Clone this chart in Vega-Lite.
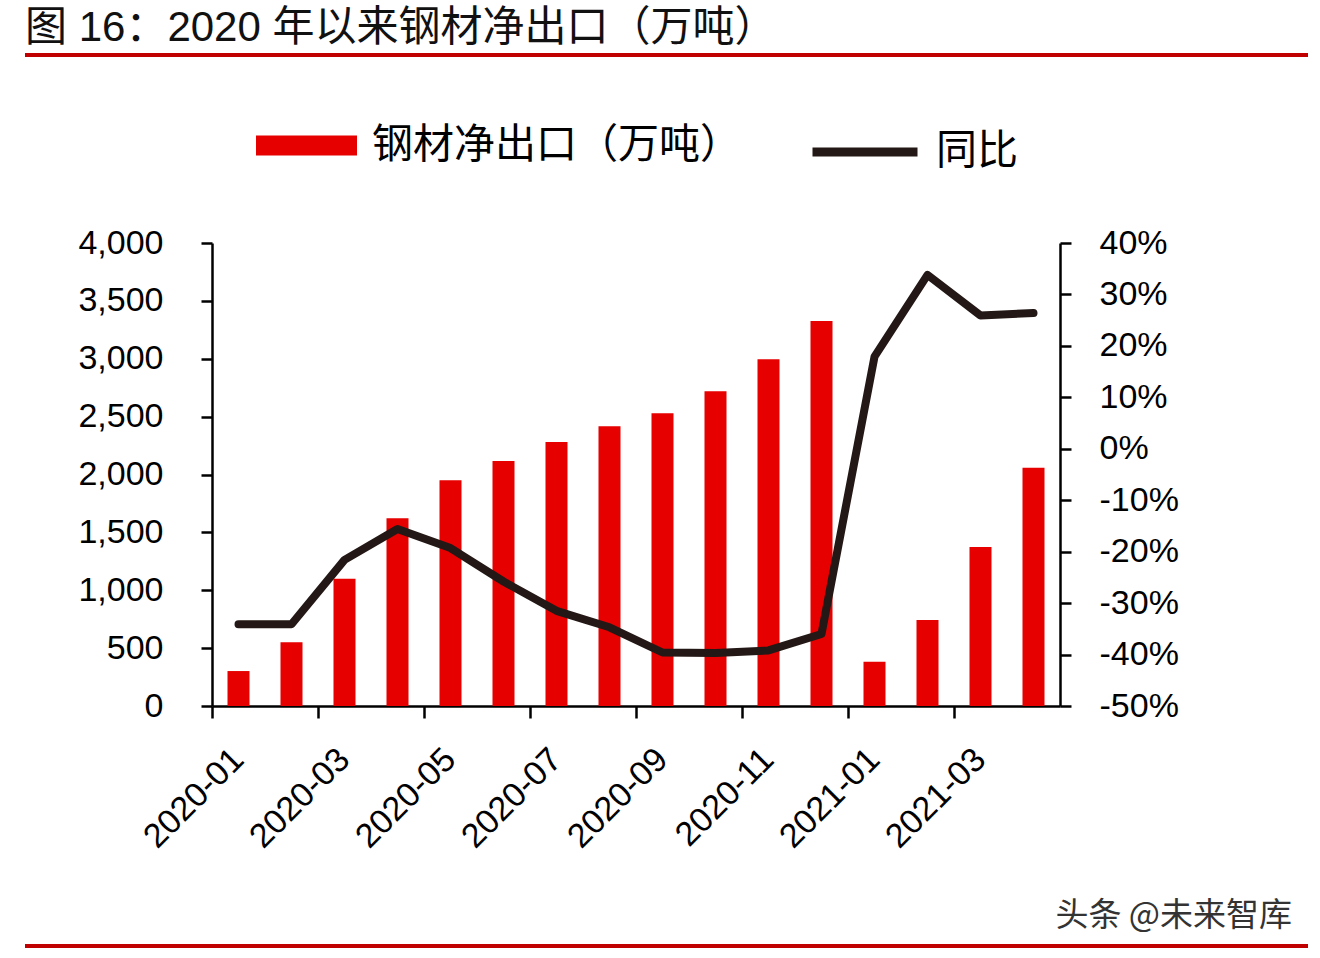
{
  "$schema": "https://vega.github.io/schema/vega-lite/v6.json",
  "padding": {"left": 25, "top": 7, "right": 12, "bottom": 10},
  "background": "#ffffff",
  "config": {
    "view": {"stroke": null},
    "font": "Liberation Sans, Noto Sans CJK SC",
    "axis": {"grid": false, "domainColor": "#000000", "tickColor": "#000000", "labelColor": "#000000", "labelFont": "Liberation Sans", "domainWidth": 2.5, "tickWidth": 2.5, "labelFontSize": 34}
  },
  "spacing": 169,
  "vconcat": [
    {
      "width": 1283,
      "height": 4,
      "data": {"values": []},
      "mark": {"type": "rule"},
      "encoding": {},
      "view": {"stroke": null, "fill": "#c00000"},
      "title": {"text": "图 16：2020 年以来钢材净出口（万吨）", "anchor": "start", "fontSize": 42, "font": "Liberation Sans, Noto Sans CJK SC", "fontWeight": "normal", "color": "#111111", "offset": 3}
    },
    {
      "spacing": 45,
      "vconcat": [
        {
          "width": 1283,
          "height": 463,
          "data": {"values": [
            {"月份": "2020-01", "净出口": 302, "同比": -34.1},
            {"月份": "2020-02", "净出口": 550, "同比": -34.1},
            {"月份": "2020-03", "净出口": 1100, "同比": -21.6},
            {"月份": "2020-04", "净出口": 1621, "同比": -15.6},
            {"月份": "2020-05", "净出口": 1950, "同比": -19.3},
            {"月份": "2020-06", "净出口": 2117, "同比": -25.8},
            {"月份": "2020-07", "净出口": 2281, "同比": -31.5},
            {"月份": "2020-08", "净出口": 2416, "同比": -34.7},
            {"月份": "2020-09", "净出口": 2529, "同比": -39.6},
            {"月份": "2020-10", "净出口": 2719, "同比": -39.7},
            {"月份": "2020-11", "净出口": 2995, "同比": -39.2},
            {"月份": "2020-12", "净出口": 3326, "同比": -36.0},
            {"月份": "2021-01", "净出口": 383, "同比": 17.9},
            {"月份": "2021-02", "净出口": 743, "同比": 33.8},
            {"月份": "2021-03", "净出口": 1374, "同比": 25.9},
            {"月份": "2021-04", "净出口": 2059, "同比": 26.4}
          ]},
          "layer": [
            {
              "mark": {"type": "bar", "width": 22},
              "encoding": {
                "x": {
                  "field": "月份", "type": "ordinal", "sort": null,
                  "scale": {"range": [187, 1035], "paddingInner": 0, "paddingOuter": 0},
                  "axis": {
                    "title": null,
                    "values": ["2020-01", "2020-03", "2020-05", "2020-07", "2020-09", "2020-11", "2021-01", "2021-03"],
                    "bandPosition": 0,
                    "labelAngle": -45, "labelAlign": "right", "labelBaseline": "middle",
                    "labelPadding": 36, "tickSize": 12, "labelOverlap": false, "labelBound": false
                  }
                },
                "y": {
                  "field": "净出口", "type": "quantitative",
                  "scale": {"domain": [0, 4000], "nice": false, "zero": true},
                  "axis": {
                    "orient": "left", "offset": -187,
                    "values": [0, 500, 1000, 1500, 2000, 2500, 3000, 3500, 4000],
                    "format": ",.0f",
                    "tickSize": 11, "labelPadding": 38, "title": null
                  }
                },
                "fill": {
                  "datum": "钢材净出口（万吨）",
                  "scale": {"range": ["#e60000"]},
                  "legend": {
                    "title": null, "orient": "none", "legendX": 231, "legendY": 42, "padding": 0,
                    "symbolType": "M-1,-0.2H1V0.2H-1Z", "symbolSize": 10201, "symbolStrokeWidth": 0, "symbolOpacity": 1,
                    "labelFontSize": 41, "labelFont": "Noto Sans CJK SC", "labelColor": "#000000", "labelOffset": 15, "labelLimit": 800
                  }
                }
              }
            },
            {
              "mark": {"type": "line", "strokeWidth": 8, "strokeCap": "round", "strokeJoin": "round"},
              "encoding": {
                "x": {"field": "月份", "type": "ordinal", "sort": null},
                "y": {
                  "field": "同比", "type": "quantitative",
                  "scale": {"domain": [-50, 40], "nice": false, "zero": false},
                  "axis": {
                    "orient": "right", "offset": -248,
                    "values": [-50, -40, -30, -20, -10, 0, 10, 20, 30, 40],
                    "labelExpr": "datum.value + '%'",
                    "tickSize": 11, "labelPadding": 28, "title": null
                  }
                },
                "stroke": {
                  "datum": "同比",
                  "scale": {"range": ["#231815"]},
                  "legend": {
                    "title": null, "orient": "none", "legendX": 783, "legendY": 42, "padding": 0,
                    "symbolType": "stroke", "symbolSize": 11025, "symbolStrokeWidth": 9,
                    "labelFontSize": 41, "labelFont": "Noto Sans CJK SC", "labelColor": "#000000", "labelOffset": 14, "labelLimit": 400
                  }
                }
              }
            }
          ],
          "resolve": {"scale": {"y": "independent"}}
        },
        {
          "width": 1283,
          "height": 4,
          "data": {"values": []},
          "mark": {"type": "rule"},
          "encoding": {},
          "view": {"stroke": null, "fill": "#c00000"},
          "title": {"text": "头条 @未来智库", "anchor": "end", "fontSize": 33, "font": "Noto Sans CJK SC", "fontWeight": "normal", "color": "#333333", "offset": 11, "dx": -16}
        }
      ]
    }
  ]
}
